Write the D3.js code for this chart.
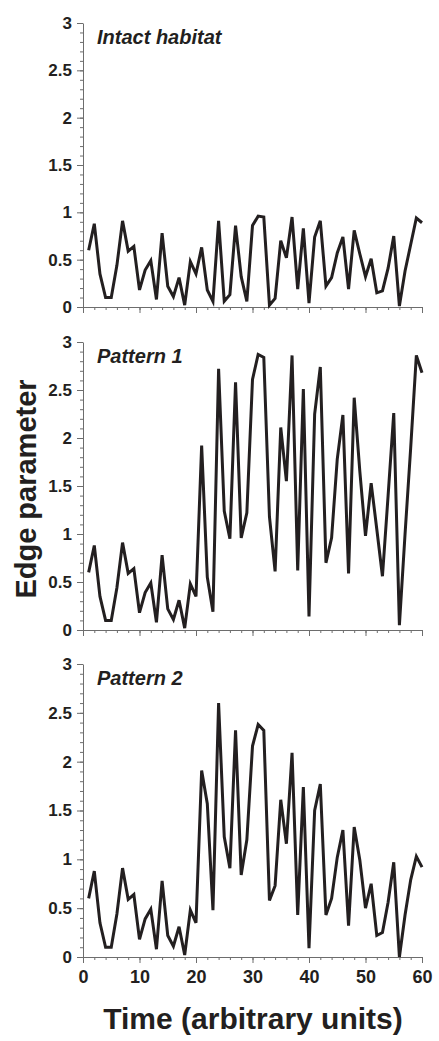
<!DOCTYPE html>
<html>
<head>
<meta charset="utf-8">
<script src="https://cdn.jsdelivr.net/npm/d3@7"></script>
<style>
  body { margin: 0; background: #fff; }
  text { font-family: "Liberation Sans", Arial, sans-serif; fill: #231f20; }
</style>
</head>
<body>
<script>
const time = [1, 2, 3, 4, 5, 6, 7, 8, 9, 10, 11, 12, 13, 14, 15, 16, 17, 18, 19, 20,
    21, 22, 23, 24, 25, 26, 27, 28, 29, 30, 31, 32, 33, 34, 35, 36, 37, 38, 39, 40,
    41, 42, 43, 44, 45, 46, 47, 48, 49, 50, 51, 52, 53, 54, 55, 56, 57, 58, 59, 60];

const intact = [0.60, 0.88, 0.35, 0.10, 0.10, 0.44, 0.91, 0.59, 0.64, 0.18,
    0.39, 0.49, 0.08, 0.78, 0.22, 0.11, 0.31, 0.02, 0.48, 0.35,
    0.63, 0.18, 0.06, 0.91, 0.06, 0.13, 0.86, 0.32, 0.06, 0.86,
    0.96, 0.95, 0.02, 0.09, 0.70, 0.52, 0.95, 0.19, 0.83, 0.04,
    0.74, 0.91, 0.22, 0.31, 0.57, 0.74, 0.19, 0.81, 0.56, 0.32,
    0.51, 0.15, 0.17, 0.41, 0.75, 0.01, 0.38, 0.66, 0.94, 0.89];

const pattern1 = [0.60, 0.88, 0.35, 0.10, 0.10, 0.44, 0.91, 0.59, 0.64, 0.18,
    0.39, 0.49, 0.08, 0.78, 0.22, 0.11, 0.31, 0.02, 0.48, 0.35,
    1.92, 0.55, 0.19, 2.72, 1.24, 0.95, 2.58, 0.96, 1.22, 2.61,
    2.87, 2.84, 1.18, 0.61, 2.11, 1.55, 2.86, 0.62, 2.51, 0.14,
    2.25, 2.74, 0.70, 0.96, 1.78, 2.24, 0.59, 2.42, 1.65, 0.98,
    1.53, 1.05, 0.56, 1.40, 2.26, 0.05, 1.00, 1.90, 2.86, 2.68];

const pattern2 = [0.60, 0.88, 0.35, 0.10, 0.10, 0.44, 0.91, 0.59, 0.64, 0.18,
    0.39, 0.49, 0.08, 0.78, 0.22, 0.11, 0.31, 0.02, 0.48, 0.35,
    1.91, 1.57, 0.48, 2.60, 1.23, 0.91, 2.32, 0.84, 1.20, 2.16,
    2.38, 2.32, 0.58, 0.73, 1.61, 1.16, 2.09, 0.43, 1.74, 0.09,
    1.50, 1.77, 0.43, 0.60, 1.02, 1.30, 0.32, 1.33, 0.99, 0.50,
    0.75, 0.22, 0.25, 0.56, 0.97, 0.00, 0.43, 0.79, 1.03, 0.92];

const panelTitles = ["Intact habitat", "Pattern 1", "Pattern 2"];
const yTickLabels = [0, 0.5, 1, 1.5, 2, 2.5, 3];
const xTickLabels = [0, 10, 20, 30, 40, 50, 60];

const width = 439;
const height = 1041;

const panels = [
    { title: panelTitles[0], values: intact, top: 23, bottom: 307, labels: false },
    { title: panelTitles[1], values: pattern1, top: 342, bottom: 630, labels: false },
    { title: panelTitles[2], values: pattern2, top: 664, bottom: 957, labels: true }
];

const svg = d3.select("body")
    .append("svg")
    .attr("width", width)
    .attr("height", height);

const x = d3.scaleLinear()
    .domain([0, 60])
    .range([83, 422]);

const xMinor = d3.range(0, 61, 2);
const yMinor = d3.range(0, 31, 1).map(d => d / 10);

panels.forEach(p => {
    const y = d3.scaleLinear()
        .domain([0, 3])
        .range([p.bottom, p.top]);

    const g = svg.append("g");

    // minor ticks
    g.append("g")
        .attr("transform", `translate(83,0)`)
        .call(d3.axisLeft(y).tickValues(yMinor).tickSize(3).tickFormat(""))
        .call(a => a.select(".domain").remove());
    g.append("g")
        .attr("transform", `translate(0,${p.bottom})`)
        .call(d3.axisBottom(x).tickValues(xMinor).tickSize(3).tickFormat(""))
        .call(a => a.select(".domain").remove());

    // major ticks
    const yAxis = g.append("g")
        .attr("transform", `translate(83,0)`)
        .call(d3.axisLeft(y).tickValues(yTickLabels).tickSize(6).tickPadding(5).tickSizeOuter(0)
            .tickFormat(d => d));
    yAxis.selectAll("text")
        .style("font-size", "17px")
        .style("font-weight", "bold");

    const xAxis = g.append("g")
        .attr("transform", `translate(0,${p.bottom})`)
        .call(d3.axisBottom(x).tickValues(xTickLabels).tickSize(6).tickPadding(7).tickSizeOuter(0)
            .tickFormat(p.labels ? d => d : ""));
    xAxis.selectAll("text")
        .style("font-size", "18px")
        .style("font-weight", "bold");

    g.selectAll(".tick line").attr("stroke", "#6d6d6d");
    g.selectAll(".domain").attr("stroke", "#6d6d6d");
    g.selectAll(".tick text").attr("fill", "#231f20");

    const line = d3.line()
        .x((d, i) => x(time[i]))
        .y(d => y(d));

    g.append("path")
        .datum(p.values)
        .attr("fill", "none")
        .attr("stroke", "#231f20")
        .attr("stroke-width", 3)
        .attr("stroke-linejoin", "miter")
        .attr("d", line);

    g.append("text")
        .attr("x", 97)
        .attr("y", p.top + 21)
        .style("font-size", "20px")
        .style("font-weight", "bold")
        .style("font-style", "italic")
        .text(p.title);
});

svg.append("text")
    .attr("transform", `translate(36,489) rotate(-90)`)
    .attr("text-anchor", "middle")
    .style("font-size", "29px")
    .style("font-weight", "bold")
    .text("Edge parameter");

svg.append("text")
    .attr("x", 253)
    .attr("y", 1029)
    .attr("text-anchor", "middle")
    .style("font-size", "30px")
    .style("font-weight", "bold")
    .text("Time (arbitrary units)");
</script>
</body>
</html>
